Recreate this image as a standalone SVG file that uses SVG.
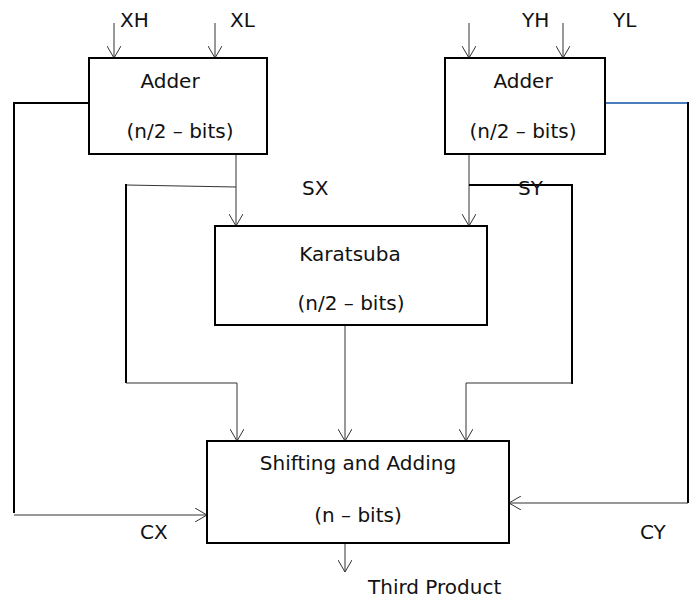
<svg xmlns="http://www.w3.org/2000/svg" width="696" height="601" viewBox="0 0 696 601">
  <style>
    .box { fill: #ffffff; stroke: #000000; stroke-width: 2; }
    .lbl { font-family: "DejaVu Sans", "Liberation Sans", sans-serif; font-size: 20px; fill: #111111; }
    .mid { text-anchor: middle; }
    .thin { fill: none; stroke: #333333; stroke-width: 1; }
    .bold { fill: none; stroke: #000000; stroke-width: 2; }
    .blue { fill: none; stroke: #4a7ebb; stroke-width: 2; }
  </style>
  <defs>
    <marker id="arrow" viewBox="0 0 12 14" refX="12" refY="7" markerWidth="12" markerHeight="14" markerUnits="userSpaceOnUse" orient="auto">
      <path d="M0,0 L12,7 L0,14" fill="none" stroke="#333333" stroke-width="1"/>
    </marker>
  </defs>
  <rect width="696" height="601" fill="#ffffff"/>

  <!-- connectors -->
  <g id="connectors">
    <!-- inputs to the adders -->
    <line class="thin" x1="114" y1="23" x2="114" y2="58" marker-end="url(#arrow)"/>
    <line class="thin" x1="215" y1="23" x2="215" y2="58" marker-end="url(#arrow)"/>
    <line class="thin" x1="469" y1="23" x2="469" y2="58" marker-end="url(#arrow)"/>
    <line class="thin" x1="563" y1="23" x2="563" y2="58" marker-end="url(#arrow)"/>

    <!-- SX: adder to karatsuba, branch down to shifter -->
    <line class="thin" x1="236" y1="154" x2="236" y2="226" marker-end="url(#arrow)"/>
    <polyline class="thin" points="236,187 126,185"/>
    <line class="bold" x1="126" y1="184" x2="126" y2="383"/>
    <polyline class="thin" points="126,383 237,383 237,441" marker-end="url(#arrow)"/>

    <!-- SY: adder to karatsuba, branch down to shifter -->
    <line class="thin" x1="469" y1="154" x2="469" y2="226" marker-end="url(#arrow)"/>
    <polyline class="bold" points="469,185 572,185 572,384"/>
    <polyline class="thin" points="572,383 466,383 466,441" marker-end="url(#arrow)"/>

    <!-- karatsuba product to shifter -->
    <line class="thin" x1="345" y1="325" x2="345" y2="441" marker-end="url(#arrow)"/>

    <!-- CX carry -->
    <polyline class="bold" points="89,103 14,103 14,513"/>
    <line class="thin" x1="14" y1="515" x2="207" y2="515" marker-end="url(#arrow)"/>

    <!-- CY carry -->
    <line class="blue" x1="605" y1="103" x2="688" y2="103"/>
    <line class="bold" x1="688" y1="102" x2="688" y2="503"/>
    <line class="thin" x1="688" y1="503" x2="509" y2="503" stroke="#555555" marker-end="url(#arrow)"/>

    <!-- output -->
    <line class="thin" x1="345" y1="543" x2="345" y2="572" marker-end="url(#arrow)"/>
  </g>

  <!-- nodes -->
  <g id="adder-x">
    <rect class="box" x="89" y="58" width="178" height="96"/>
    <text class="lbl mid" x="170" y="88">Adder</text>
    <text class="lbl mid" x="180" y="138">(n/2 – bits)</text>
  </g>
  <g id="adder-y">
    <rect class="box" x="445" y="58" width="160" height="96"/>
    <text class="lbl mid" x="523" y="88">Adder</text>
    <text class="lbl mid" x="523" y="138">(n/2 – bits)</text>
  </g>
  <g id="karatsuba">
    <rect class="box" x="215" y="226" width="272" height="99"/>
    <text class="lbl mid" x="350" y="261">Karatsuba</text>
    <text class="lbl mid" x="351" y="310">(n/2 – bits)</text>
  </g>
  <g id="shift-add">
    <rect class="box" x="207" y="441" width="302" height="102"/>
    <text class="lbl mid" x="358" y="470">Shifting and Adding</text>
    <text class="lbl mid" x="358" y="522">(n – bits)</text>
  </g>

  <!-- signal labels -->
  <g id="labels">
    <text class="lbl" x="120" y="27">XH</text>
    <text class="lbl" x="230" y="27">XL</text>
    <text class="lbl" x="522" y="27">YH</text>
    <text class="lbl" x="613" y="27">YL</text>
    <text class="lbl" x="302" y="195">SX</text>
    <text class="lbl" x="518" y="195">SY</text>
    <text class="lbl" x="140" y="539">CX</text>
    <text class="lbl" x="640" y="539">CY</text>
    <text class="lbl" x="368" y="594">Third Product</text>
  </g>
</svg>
